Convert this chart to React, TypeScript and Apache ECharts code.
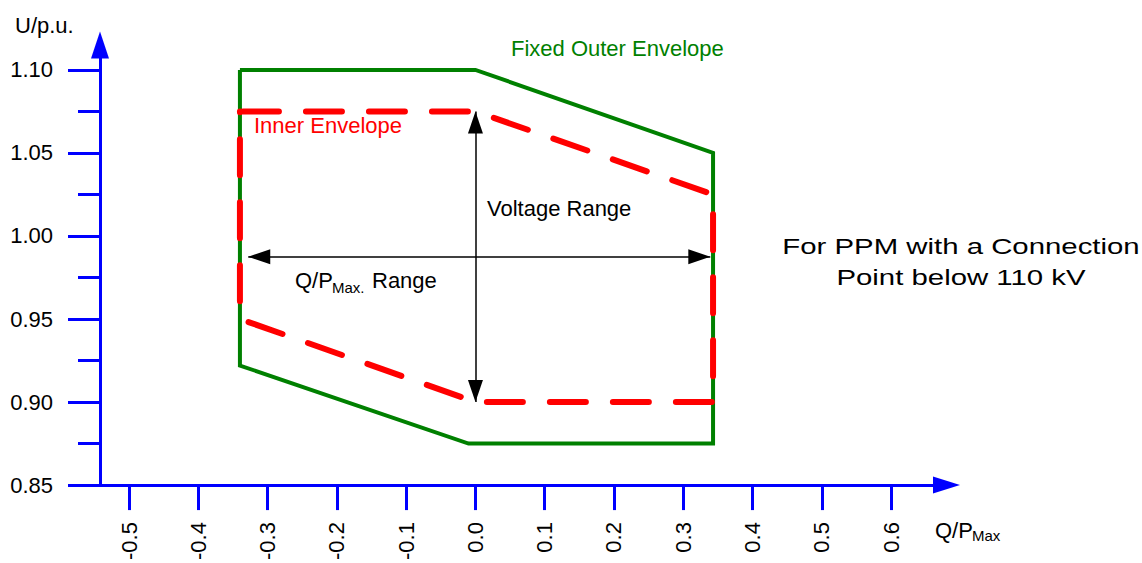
import { useEffect, useRef } from 'react';
import * as echarts from 'echarts';

// Axis ticks
const xTicks = [-0.5, -0.4, -0.3, -0.2, -0.1, 0.0, 0.1, 0.2, 0.3, 0.4, 0.5, 0.6];
const yTicks = [0.85, 0.9, 0.95, 1.0, 1.05, 1.1];
const yMinorTicks = [0.875, 0.925, 0.975, 1.025, 1.075];

// Fixed outer envelope (green)
const outerQ = [-0.34, 0.0, 0.343, 0.343, -0.01, -0.34, -0.34];
const outerU = [1.1, 1.1, 1.05, 0.875, 0.875, 0.922, 1.1];

// Inner envelope (red dashed)
const innerQ = [-0.34, 0.0, 0.343, 0.343, 0.0, -0.34, -0.34];
const innerU = [1.075, 1.075, 1.025, 0.9, 0.9, 0.95, 1.075];

// Range arrows
const voltageArrowQ = [0.0, 0.0];
const voltageArrowU = [1.075, 0.9];
const rangeArrowQ = [-0.328, 0.339];
const rangeArrowU = [0.9875, 0.9875];

const FONT = "'Liberation Sans', Arial, Helvetica, sans-serif";
const BLUE = '#0000ff';

export default function App() {
  const ref = useRef<HTMLDivElement>(null);

  useEffect(() => {
    if (!ref.current) return;
    const chart = echarts.init(ref.current, null, { renderer: 'svg' });

    const txt = (text: string, x: number, y: number, size: number, color = '#000') => ({
      type: 'text',
      x,
      y,
      silent: true,
      style: {
        text,
        fill: color,
        fontSize: size,
        fontFamily: FONT,
        verticalAlign: 'middle',
        align: 'left',
      },
    });

    const option: any = {
      animation: false,
      backgroundColor: '#ffffff',
      grid: { left: 100, right: 195.5, top: 45, bottom: 73, containLabel: false },
      xAxis: {
        type: 'value',
        min: -0.542,
        max: 0.68,
        axisLine: {
          show: true,
          onZero: false,
          symbol: ['none', 'triangle'],
          symbolSize: [17, 27],
          lineStyle: { color: BLUE, width: 3 },
        },
        axisTick: {
          show: true,
          customValues: xTicks,
          length: 25,
          lineStyle: { color: BLUE, width: 3 },
        },
        axisLabel: {
          show: true,
          customValues: xTicks,
          rotate: 90,
          margin: 37,
          color: '#000',
          fontSize: 22,
          fontFamily: FONT,
          formatter: (v: number) => v.toFixed(1),
        },
        splitLine: { show: false },
      },
      yAxis: [
        {
          type: 'value',
          min: 0.85,
          max: 1.115,
          position: 'left',
          axisLine: {
            show: true,
            onZero: false,
            symbol: ['none', 'triangle'],
            symbolSize: [18, 27],
            lineStyle: { color: BLUE, width: 3 },
          },
          axisTick: {
            show: true,
            customValues: yTicks,
            length: 32,
            lineStyle: { color: BLUE, width: 3 },
          },
          axisLabel: {
            show: true,
            customValues: yTicks,
            margin: 47,
            color: '#000',
            fontSize: 22,
            fontFamily: FONT,
            formatter: (v: number) => v.toFixed(2),
          },
          splitLine: { show: false },
        },
        {
          type: 'value',
          min: 0.85,
          max: 1.115,
          position: 'left',
          offset: 0,
          axisLine: { show: false, onZero: false },
          axisTick: {
            show: true,
            customValues: yMinorTicks,
            length: 22,
            lineStyle: { color: BLUE, width: 3 },
          },
          axisLabel: { show: false },
          splitLine: { show: false },
        },
      ],
      series: [
        {
          name: 'Fixed Outer Envelope',
          type: 'line',
          data: outerQ.map((q, i) => [q, outerU[i]]),
          symbol: 'none',
          silent: true,
          lineStyle: { color: '#008000', width: 4, join: 'miter' },
          z: 2,
        },
        {
          name: 'Inner Envelope',
          type: 'line',
          data: innerQ.map((q, i) => [q, innerU[i]]),
          symbol: 'none',
          silent: true,
          lineStyle: { color: '#ff0000', width: 6, type: [36, 27], cap: 'round', join: 'round', dashOffset: -3 },
          z: 3,
          markLine: {
            silent: true,
            symbol: ['triangle', 'triangle'],
            symbolSize: [15, 22],
            symbolOffset: [[0, 11], [0, 11]],
            label: { show: false },
            emphasis: { disabled: true },
            lineStyle: { color: '#000', width: 1.5, type: 'solid' },
            data: [
              [
                { coord: [voltageArrowQ[0], voltageArrowU[0]] },
                { coord: [voltageArrowQ[1], voltageArrowU[1]] },
              ],
              [
                { coord: [rangeArrowQ[0], rangeArrowU[0]] },
                { coord: [rangeArrowQ[1], rangeArrowU[1]] },
              ],
            ],
          },
        },
      ],
      graphic: [
        txt('U/p.u.', 15, 25, 22),
        txt('Q/P', 935, 530.5, 22),
        txt('Max', 972, 535.5, 15),
        txt('Fixed Outer Envelope', 511, 48, 22, '#008000'),
        txt('Inner Envelope', 254, 125, 22, '#ff0000'),
        txt('Voltage Range', 487, 208, 22),
        txt('Q/P', 295, 280, 22),
        txt('Max.', 332, 287, 15),
        txt('Range', 372, 280, 22),
        {
          type: 'text',
          x: 961,
          y: 261.5,
          scaleX: 1.335,
          silent: true,
          style: {
            text: 'For PPM with a Connection\nPoint below 110 kV',
            fill: '#000',
            fontSize: 22,
            fontFamily: FONT,
            align: 'center',
            verticalAlign: 'middle',
            lineHeight: 31,
          },
        },
      ],
    };

    chart.setOption(option);
    return () => chart.dispose();
  }, []);

  return (
    <div
      ref={ref}
      style={{ position: 'absolute', left: 0, top: 0, width: 1142, height: 563, background: '#fff' }}
    />
  );
}
